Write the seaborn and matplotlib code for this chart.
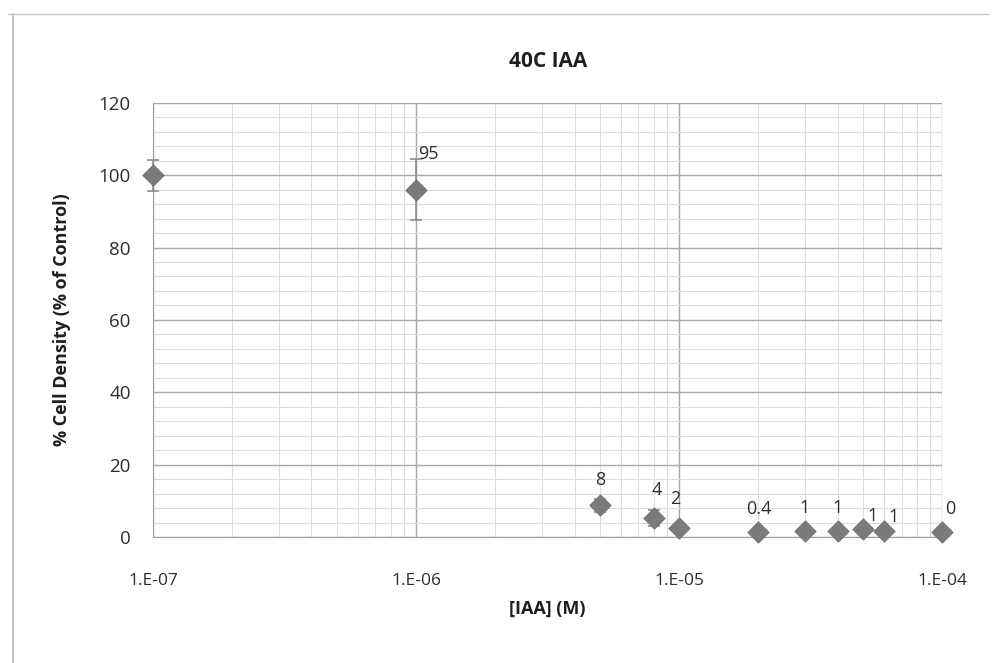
import numpy as np
import pandas as pd
import matplotlib
matplotlib.use("Agg")
import matplotlib.pyplot as plt
import matplotlib.ticker as mticker
from matplotlib.lines import Line2D
import seaborn as sns

# values
conc = [1e-7, 1e-6, 5e-6, 8e-6, 1e-5, 2e-5, 3e-5, 4e-5, 5e-5, 6e-5, 1e-4]
density = [100, 96, 8.8, 5.2, 2.6, 1.5, 1.8, 1.8, 2.2, 1.8, 1.5]
err = [4.3, 8.5, 1.8, 2.2, 0.6, 0.4, 0.4, 0.4, 0.5, 0.4, 0.4]
point_labels = ["", "95", "8", "4", "2", "0.4", "1", "1", "1", "1", "0"]
x_ticks = [1e-7, 1e-6, 1e-5, 1e-4]
x_ticklabels = ["1.E-07", "1.E-06", "1.E-05", "1.E-04"]

df = pd.DataFrame({"conc": conc, "density": density, "err": err, "label": point_labels})

sns.set_style("white")
plt.rcParams["font.family"] = ["Open Sans", "DejaVu Sans"]

fig = plt.figure(figsize=(9.94, 6.63), dpi=100)
fig.patch.set_facecolor("white")
# chart area frame of the scan (left and top edges visible)
fig.add_artist(Line2D([0.013, 0.013], [0.0, 0.979], transform=fig.transFigure,
                      color="#b8b8b8", linewidth=1.2))
fig.add_artist(Line2D([0.008, 0.995], [0.979, 0.979], transform=fig.transFigure,
                      color="#c4c4c4", linewidth=1.0))

ax = fig.add_axes([0.154, 0.190, 0.794, 0.655])
ax.set_xscale("log")
ax.set_xlim(1e-7, 1e-4)
ax.set_ylim(0, 120)

# Excel style grid: major + minor in both directions
ax.set_yticks(np.arange(0, 121, 20))
ax.yaxis.set_minor_locator(mticker.MultipleLocator(4))
ax.xaxis.set_minor_locator(mticker.LogLocator(base=10, subs=np.arange(2, 10)))
ax.xaxis.set_minor_formatter(mticker.NullFormatter())
ax.grid(True, which="major", color="#a8a8a8", linewidth=1.0)
ax.grid(True, which="minor", color="#dcdcdc", linewidth=0.8)
ax.set_axisbelow(True)

eb = ax.errorbar(df["conc"], df["density"], yerr=df["err"], fmt="none",
                 ecolor="#8c8c8c", elinewidth=1.2, capsize=4, capthick=1.2, zorder=3)
for art in eb.get_children():
    art.set_clip_on(False)
sns.scatterplot(data=df, x="conc", y="density", marker="D", s=120,
                color="#7a7a7a", edgecolor="#6e6e6e", linewidth=0.5, ax=ax,
                zorder=4, clip_on=False)

# data label offsets in points (Excel placed them slightly differently)
offsets = {"95": (9, 19), "8": (0, 12), "4": (2, 14), "2": (-3, 14), "0.4": (0, 10)}
for i, r in df.iterrows():
    if not r["label"]:
        continue
    dx, dy = offsets.get(r["label"], (0, 10))
    if i in (8, 9):
        dx, dy = (7, 3)
    if i == 10:
        dx, dy = (6, 10)
    ax.annotate(r["label"], (r["conc"], r["density"]), xytext=(dx, dy),
                textcoords="offset points", ha="center", va="bottom",
                fontsize=13, color="#2e2e2e")

ax.set_xticks(x_ticks)
ax.set_xticklabels(x_ticklabels)
ax.tick_params(axis="x", which="both", length=0, pad=26, labelsize=12.5, colors="#2e2e2e")
ax.tick_params(axis="y", which="both", length=0, pad=16, labelsize=13.5, colors="#2e2e2e")

for side in ["top", "right"]:
    ax.spines[side].set_visible(False)
ax.spines["left"].set_color("#a0a0a0")
ax.spines["bottom"].set_color("#a0a0a0")

ax.set_title("40C IAA", fontsize=15, fontweight="bold", pad=26, color="#1e1e1e")
ax.set_xlabel("[IAA] (M)", fontsize=13, fontweight="bold", labelpad=8, color="#1e1e1e")
ax.set_ylabel("% Cell Density (% of Control)", fontsize=13, fontweight="bold",
              labelpad=20, color="#1e1e1e")

fig.savefig("out.png", dpi=100)
